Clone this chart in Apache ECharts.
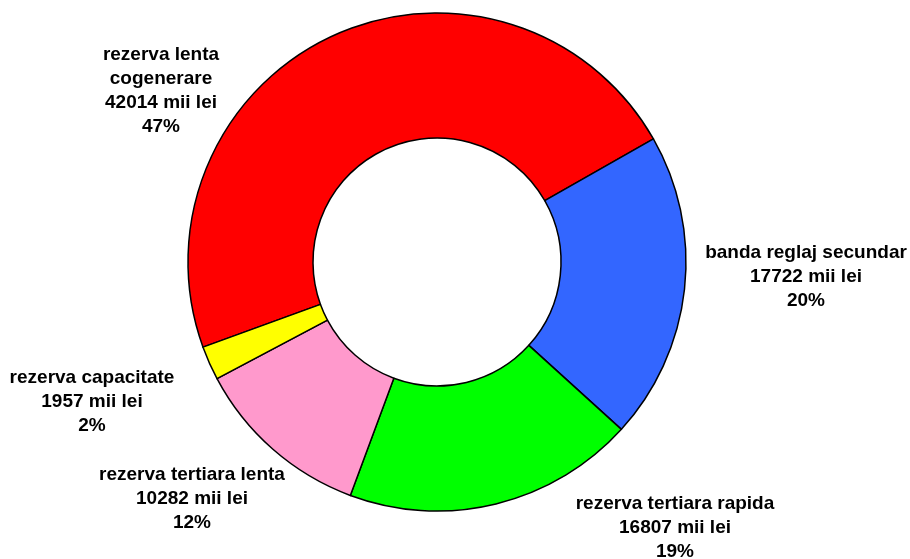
<!DOCTYPE html>
<html>
<head>
<meta charset="utf-8">
<title>Rezerve</title>
<script src="https://cdn.jsdelivr.net/npm/echarts@6/dist/echarts.min.js"></script>
<style>
  html, body { margin: 0; padding: 0; background: #ffffff; }
  #chart { width: 910px; height: 559px; }
</style>
</head>
<body>
<div id="chart"></div>
<script>
// Slice names, values (mii lei) and fill colours, in drawing order
const categories = [
  'rezerva lenta\ncogenerare',
  'banda reglaj secundar',
  'rezerva tertiara rapida',
  'rezerva tertiara lenta',
  'rezerva capacitate'
];
const values = [42014, 17722, 16807, 10282, 1957];
const colors = ['#FF0000', '#3366FF', '#00FF00', '#FF99CC', '#FFFF00'];

// Centre point of each text block, in pixels
const labelAnchors = [
  [161, 91],
  [806, 277],
  [675, 528],
  [192, 499],
  [92, 402]
];

const chart = echarts.init(document.getElementById('chart'), null, { renderer: 'canvas' });

const seriesData = categories.map((name, i) => ({
  name: name,
  value: values[i],
  itemStyle: { color: colors[i] }
}));

chart.setOption({
  animation: false,
  backgroundColor: '#ffffff',
  series: [{
    type: 'pie',
    center: [437, 262],
    radius: [124, 249],
    startAngle: 200,
    clockwise: true,
    percentPrecision: 0,
    avoidLabelOverlap: false,
    data: seriesData,
    itemStyle: {
      borderColor: '#000000',
      borderWidth: 1.5
    },
    label: {
      show: true,
      position: 'outside',
      formatter: '{b}\n{c} mii lei\n{d}%',
      fontFamily: 'Arial, "Liberation Sans", sans-serif',
      fontWeight: 'bold',
      fontSize: 19,
      lineHeight: 24,
      color: '#000000'
    },
    labelLine: { show: false },
    labelLayout: function (params) {
      const p = labelAnchors[params.dataIndex];
      return { x: p[0], y: p[1], align: 'center', verticalAlign: 'middle' };
    },
    emphasis: { disabled: true }
  }]
});
</script>
</body>
</html>
